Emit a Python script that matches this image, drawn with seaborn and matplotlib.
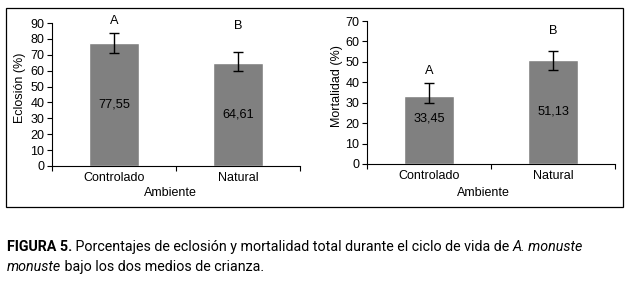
import matplotlib
matplotlib.use("Agg")
import matplotlib.pyplot as plt
from matplotlib.patches import Rectangle
import seaborn as sns

# datos
ambiente = ["Controlado", "Natural"]
eclosion = [77.55, 64.61]
eclosion_err_inf = [6.7, 5.1]
eclosion_err_sup = [5.9, 7.3]
mortalidad = [33.45, 51.13]
mortalidad_err_inf = [3.7, 5.3]
mortalidad_err_sup = [6.0, 4.3]
letras_eclosion = ["A", "B"]
letras_mortalidad = ["A", "B"]

sns.set_style("ticks")
plt.rcParams["font.family"] = ["Liberation Sans", "DejaVu Sans"]
plt.rcParams["font.size"] = 9
for k in ["text.color", "axes.labelcolor", "xtick.color", "ytick.color"]:
    plt.rcParams[k] = "black"

fig = plt.figure(figsize=(6.35, 2.82), dpi=100)
ax1 = fig.add_axes([52 / 635, 1 - 166 / 282, 248 / 635, 143 / 282])
ax2 = fig.add_axes([367 / 635, 1 - 164 / 282, 248 / 635, 143 / 282])


def panel(ax, valores, err_inf, err_sup, letras, letra_y, ylabel, ymax, ylab_pos, xlab_pos, nudge):
    sns.barplot(x=ambiente, y=valores, color="#808080", width=0.41,
                saturation=1, errorbar=None, ax=ax)
    ax.errorbar(range(len(valores)), valores, yerr=[err_inf, err_sup], fmt="none",
                ecolor="black", elinewidth=1, capsize=3.3, capthick=1)
    for i, v in enumerate(valores):
        ax.annotate(f"{v:.2f}".replace(".", ","), (i, v / 2), xytext=(0, nudge[i]),
                    textcoords="offset points", ha="center", va="center", fontsize=9.2)
        ax.text(i, letra_y[i], letras[i], ha="center", va="center", fontsize=9.2)
    ax.set_ylim(0, ymax)
    ax.set_xlim(-0.5, 1.5)
    ax.set_yticks(range(0, ymax + 1, 10))
    ax.set_xticks([-0.5, 0.5, 1.5], minor=True)
    ax.tick_params(axis="x", which="major", length=0, pad=4)
    ax.tick_params(axis="x", which="minor", length=3.6, width=0.8, direction="out")
    ax.tick_params(axis="y", length=3.6, width=0.8, pad=2)
    for s in ["left", "bottom"]:
        ax.spines[s].set_linewidth(0.8)
        ax.spines[s].set_color("black")
    sns.despine(ax=ax)
    ax.set_ylabel(ylabel)
    ax.yaxis.set_label_coords(*ylab_pos)
    ax.yaxis.label.set_va("center")
    ax.set_xlabel("Ambiente")
    ax.xaxis.set_label_coords(*xlab_pos)
    ax.xaxis.label.set_va("center")


panel(ax1, eclosion, eclosion_err_inf, eclosion_err_sup, letras_eclosion, [91.2, 87.9],
      "Eclosión (%)", 90, (-0.129, 0.55), (0.476, -0.189), [0, 0])
panel(ax2, mortalidad, mortalidad_err_inf, mortalidad_err_sup, letras_mortalidad, [45.5, 65],
      "Mortalidad (%)", 70, (-0.121, 0.545), (0.468, -0.203), [8, 0])

# marco
fig.patches.append(Rectangle((6 / 635, 1 - 207 / 282), 617 / 635, 199 / 282,
                             transform=fig.transFigure, fill=False,
                             edgecolor="black", linewidth=0.9))

# pie de figura (fuente estrecha no disponible: se ajusta el tamaño al ancho)
cap = ["Roboto", "DejaVu Sans"]
fs = 10
t1 = fig.text(7 / 635, 1 - 247 / 282, "FIGURA 5.", family=cap, fontsize=fs,
              fontweight="bold", va="center", ha="left")
t2 = ax1.annotate(" Porcentajes de eclosión y mortalidad total durante el ciclo de vida de ",
                  xy=(1, 0), xycoords=t1, va="bottom", ha="left",
                  family=cap, fontsize=fs, annotation_clip=False)
t3 = ax1.annotate("A. monuste", xy=(1, 0), xycoords=t2, va="bottom", ha="left",
                  family=cap, fontsize=fs, style="italic", annotation_clip=False)
t4 = fig.text(7 / 635, 1 - 267 / 282, "monuste", family=cap, fontsize=fs,
              style="italic", va="center", ha="left")
t5 = ax1.annotate(" bajo los dos medios de crianza.", xy=(1, 0), xycoords=t4,
                  va="bottom", ha="left", family=cap, fontsize=fs, annotation_clip=False)

r = fig.canvas.get_renderer()
ancho = t3.get_window_extent(r).x1 - t1.get_window_extent(r).x0
nuevo = fs * 576 / ancho
for t in [t1, t2, t3, t4, t5]:
    t.set_fontsize(nuevo)

fig.savefig("out.png", dpi=100)
